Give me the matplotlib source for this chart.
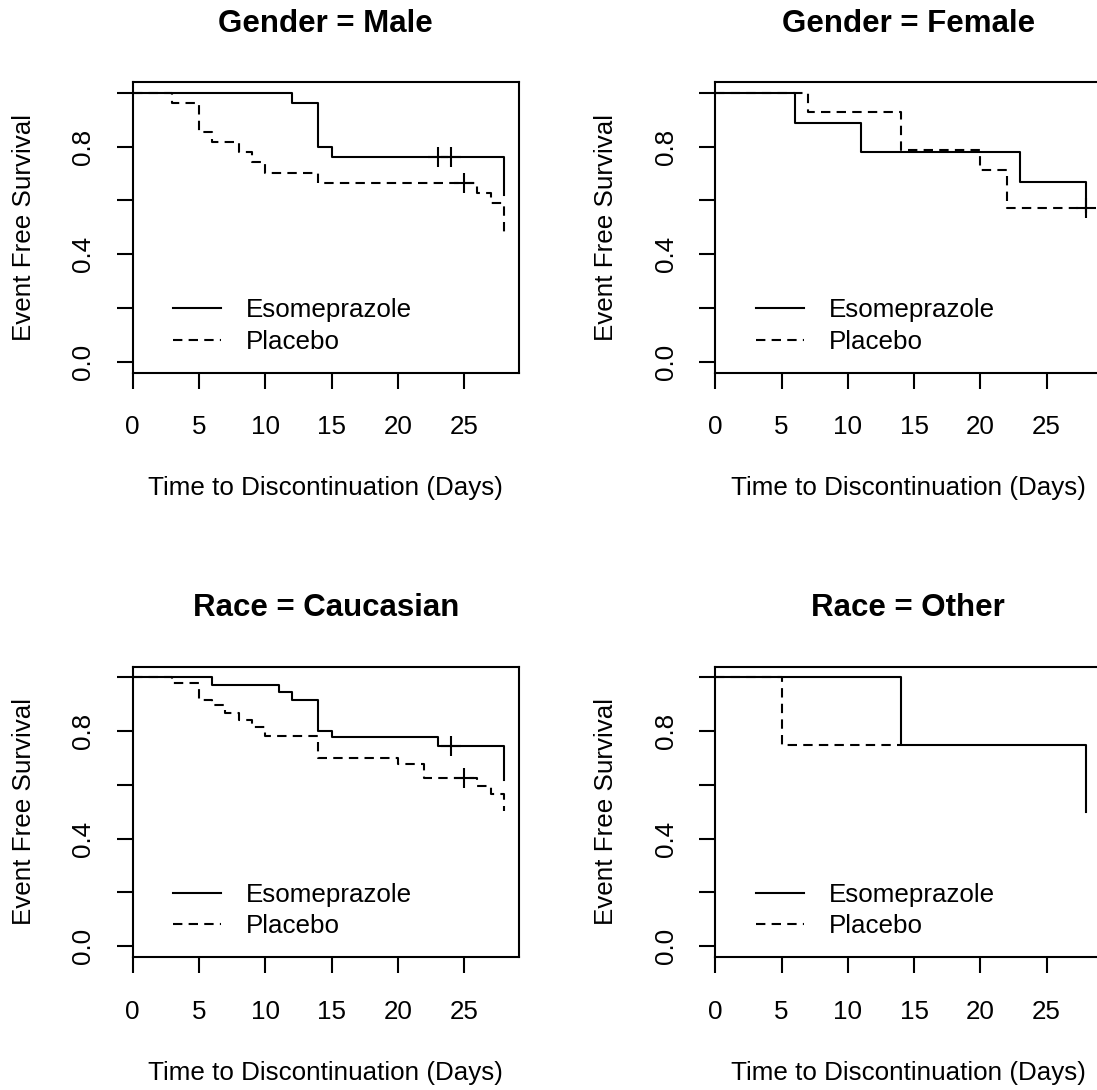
import numpy as np
import matplotlib
matplotlib.use("Agg")
import matplotlib.pyplot as plt

plt.rcParams['font.family'] = ['Liberation Sans', 'DejaVu Sans']

# panels: title, (times, surv, end) per arm, censor times per arm
titles = ["Gender = Male", "Gender = Female", "Race = Caucasian", "Race = Other"]
arms = ["Esomeprazole", "Placebo"]

# Gender = Male
male_eso_t = [0, 12, 14, 15, 28]
male_eso_s = [1.0, 0.963, 0.800, 0.763, 0.621]
male_eso_cens = [23, 24]
male_pla_t = [0, 3, 5, 6, 8, 9, 10, 14, 26, 27, 28]
male_pla_s = [1.0, 0.963, 0.853, 0.816, 0.779, 0.741, 0.700, 0.664, 0.627, 0.590, 0.473]
male_pla_cens = [25]

# Gender = Female
fem_eso_t = [0, 6, 11, 23, 28]
fem_eso_s = [1.0, 0.889, 0.778, 0.667, 0.556]
fem_eso_cens = []
fem_pla_t = [0, 7, 14, 20, 22, 28]
fem_pla_s = [1.0, 0.929, 0.786, 0.714, 0.571, 0.571]
fem_pla_cens = [28]

# Race = Caucasian
cau_eso_t = [0, 6, 11, 12, 14, 15, 23, 28]
cau_eso_s = [1.0, 0.971, 0.946, 0.917, 0.800, 0.777, 0.744, 0.617]
cau_eso_cens = [24]
cau_pla_t = [0, 3, 5, 6, 7, 8, 9, 10, 14, 20, 22, 26, 27, 28]
cau_pla_s = [1.0, 0.978, 0.917, 0.896, 0.867, 0.840, 0.815, 0.781, 0.700, 0.677, 0.625, 0.596, 0.565, 0.503]
cau_pla_cens = [25]

# Race = Other
oth_eso_t = [0, 14, 28]
oth_eso_s = [1.0, 0.75, 0.50]
oth_eso_cens = []
oth_pla_t = [0, 5, 14]
oth_pla_s = [1.0, 0.75, 0.75]
oth_pla_cens = []

panels = [
    [(male_eso_t, male_eso_s, male_eso_cens), (male_pla_t, male_pla_s, male_pla_cens)],
    [(fem_eso_t, fem_eso_s, fem_eso_cens), (fem_pla_t, fem_pla_s, fem_pla_cens)],
    [(cau_eso_t, cau_eso_s, cau_eso_cens), (cau_pla_t, cau_pla_s, cau_pla_cens)],
    [(oth_eso_t, oth_eso_s, oth_eso_cens), (oth_pla_t, oth_pla_s, oth_pla_cens)],
]

xticks = [0, 5, 10, 15, 20, 25]
yticks = [0.0, 0.2, 0.4, 0.6, 0.8, 1.0]
ytick_labels = ["0.0", "", "0.4", "", "0.8", ""]

W, H = 1097, 1090
fig = plt.figure(figsize=(W / 100, H / 100), dpi=100)

# axes boxes in pixels: left, top
ax_w, ax_h = 386, 290.5
boxes = [(132.7, 82), (715.3, 82), (132.7, 666.5), (715.3, 666.5)]

styles = [dict(ls="-"), dict(ls=(0, (4.5, 3)))]
lw = 1.5
fs = 18.7

for i, (left, top) in enumerate(boxes):
    ax = fig.add_axes([left / W, 1 - (top + ax_h) / H, ax_w / W, ax_h / H])
    handles = []
    for (t, s, cens), st, name in zip(panels[i], styles, arms):
        t = np.array(t, dtype=float)
        s = np.array(s, dtype=float)
        line, = ax.step(t, s, where="post", color="black", lw=lw, **st)
        handles.append(line)
        if len(cens):
            idx = np.searchsorted(t, cens, side="right") - 1
            ax.plot(cens, s[idx], ls="none", marker="+", ms=14, mew=lw, color="black")
    ax.set_xlim(0, 28 * 1.04)
    ax.set_ylim(-0.04, 1.04)
    ax.set_xticks(xticks)
    ax.set_xticklabels([str(v) for v in xticks])
    ax.set_yticks(yticks)
    ax.set_yticklabels(ytick_labels)
    ax.tick_params(length=11.5, width=lw, labelsize=fs, direction="out")
    ax.tick_params(axis="x", pad=28)
    ax.tick_params(axis="y", pad=24)
    for lab in ax.get_yticklabels():
        lab.set_rotation(90)
        lab.set_ha("center")
        lab.set_va("center")
    for lab in ax.get_xticklabels():
        lab.set_va("center")
    for sp in ax.spines.values():
        sp.set_linewidth(lw)
    ax.set_title(titles[i], fontsize=22.5, fontweight="bold", pad=36)
    ax.set_xlabel("Time to Discontinuation (Days)", fontsize=fs, va="center")
    ax.xaxis.set_label_coords(0.5, -116 / ax_h)
    ax.set_ylabel("Event Free Survival", fontsize=fs, va="center")
    ax.yaxis.set_label_coords(-109 / ax_w, 0.5)
    ax.legend(handles, arms, loc="center left", bbox_to_anchor=(0.105, 0.16),
              frameon=False, fontsize=fs, handlelength=1.85, handletextpad=0.95,
              labelspacing=0.3, borderpad=0, borderaxespad=0)

fig.savefig("out.png", dpi=100)
